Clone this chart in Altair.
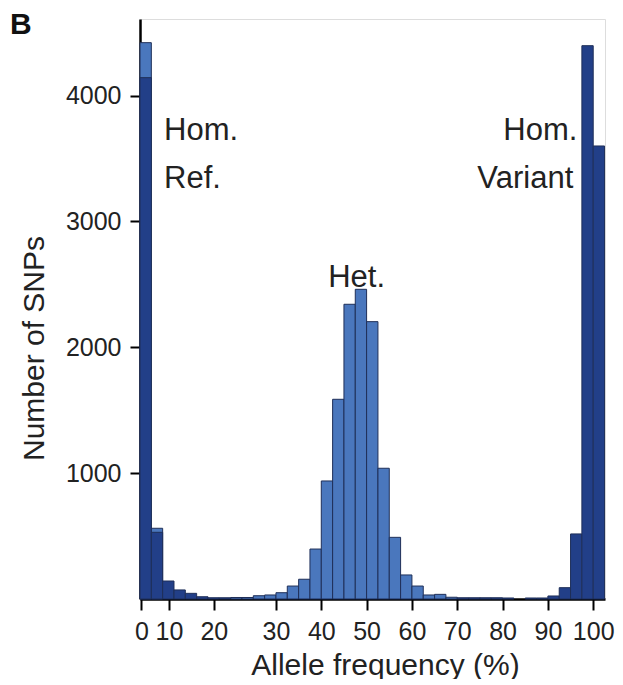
import altair as alt
import pandas as pd

# ---- data ----
bin_start = [0, 2.5, 5, 7.5, 10, 12.5, 15, 17.5, 20, 22.5,
             25, 27.5, 30, 32.5, 35, 37.5, 40, 42.5, 45, 47.5,
             50, 52.5, 55, 57.5, 60, 62.5, 65, 67.5, 70, 72.5,
             75, 77.5, 80, 82.5, 85, 87.5, 90, 92.5, 95, 97.5, 100]
bin_width = 2.5

het_counts = [4421, 562, 0, 0, 0, 0, 0, 0, 12, 12,
              26, 32, 50, 103, 157, 397, 938, 1587, 2342, 2461,
              2204, 1039, 490, 191, 103, 32, 37, 14, 0, 0,
              0, 0, 0, 0, 0, 0, 0, 0, 0, 0, 0]
hom_counts = [4143, 530, 143, 72, 45, 18, 10, 10, 0, 0,
              0, 0, 0, 0, 0, 0, 0, 0, 0, 0,
              0, 0, 0, 0, 0, 0, 0, 0, 10, 10,
              10, 10, 8, 0, 8, 8, 24, 90, 517, 4397, 3600]

series_names = ["Het.", "Hom."]
series_colors = ["#4a77bd", "#223f88"]

x_tick_pos = [0.3, 6.4, 16.3, 30, 40, 50, 60, 70, 80, 90, 100]
x_tick_labels = ["0", "10", "20", "30", "40", "50", "60", "70", "80", "90", "100"]
y_tick_values = [1000, 2000, 3000, 4000]

ann_text = ["Hom.", "Ref.", "Hom.", "Variant", "Het."]
ann_x = [5.3, 5.3, 96.5, 95.6, 47.8]
ann_y = [3647, 3266, 3647, 3266, 2479]
ann_align = ["left", "left", "right", "right", "center"]

# ---- build tables ----
rows = []
for name, counts in zip(series_names, [het_counts, hom_counts]):
    for s, c in zip(bin_start, counts):
        if c > 0:
            rows.append({"series": name, "start": s, "end": s + bin_width, "count": c})
df = pd.DataFrame(rows)

ann = pd.DataFrame({"label": ann_text, "start": ann_x, "count": ann_y, "align": ann_align})

FONT = "Liberation Sans"
TXT = "#222222"

label_expr = ("[" + ",".join(f"'{l}'" for l in x_tick_labels) + "][indexof(["
              + ",".join(str(v) for v in x_tick_pos) + "], datum.value)]")

x_enc = alt.X(
    "start:Q",
    scale=alt.Scale(domain=[0, 102.6], nice=False, zero=False),
    axis=alt.Axis(
        values=x_tick_pos, labelExpr=label_expr, title="Allele frequency (%)",
        grid=False, tickSize=11, tickWidth=2, tickColor="black",
        domainColor="black", domainWidth=2.5,
        labelFont=FONT, labelFontSize=25, labelColor=TXT, labelPadding=9,
        labelOverlap=False, labelFlush=False,
        titleFont=FONT, titleFontSize=30, titleFontWeight="normal", titleColor=TXT,
        titleX=245, titleY=75, titleBaseline="alphabetic", titleAlign="center",
    ),
)
y_enc = alt.Y(
    "count:Q",
    stack=None,
    scale=alt.Scale(domain=[0, 4609], nice=False),
    axis=alt.Axis(
        values=y_tick_values, format="d", title="Number of SNPs",
        grid=False, tickSize=10, tickWidth=2, tickColor="black",
        domainColor="black", domainWidth=2.5,
        labelFont=FONT, labelFontSize=25, labelColor=TXT, labelPadding=9,
        labelOverlap=False, labelFlush=False,
        titleFont=FONT, titleFontSize=30, titleFontWeight="normal", titleColor=TXT,
        titleX=-106, titleY=329, titleAngle=270, titleAlign="center", titleBaseline="middle",
    ),
)

bars = alt.Chart(df).mark_bar(stroke="#1f2f58", strokeWidth=1).encode(
    x=x_enc,
    x2="end:Q",
    y=y_enc,
    y2=alt.datum(0),
    color=alt.Color("series:N", scale=alt.Scale(domain=series_names, range=series_colors), legend=None),
)

def ann_layer(al):
    return alt.Chart(ann).transform_filter(alt.datum.align == al).mark_text(
        align=al, baseline="alphabetic", font=FONT, fontSize=31, color=TXT
    ).encode(x=x_enc, y=y_enc, text="label:N")

panel = alt.Chart(pd.DataFrame({"t": ["B"]})).mark_text(
    align="left", baseline="alphabetic", font=FONT, fontSize=30, fontWeight="bold", color="#111111"
).encode(text="t:N", x=alt.value(-130), y=alt.value(15))

chart = alt.layer(
    bars, ann_layer("left"), ann_layer("right"), ann_layer("center"), panel
).properties(
    width=465, height=580,
    autosize=alt.AutoSizeParams(type="none"),
    padding={"left": 132, "top": 11, "right": 10, "bottom": 80},
).configure_view(stroke=None).configure(background="white")

chart.save("out.html", embed_options={"renderer": "svg", "actions": False})
